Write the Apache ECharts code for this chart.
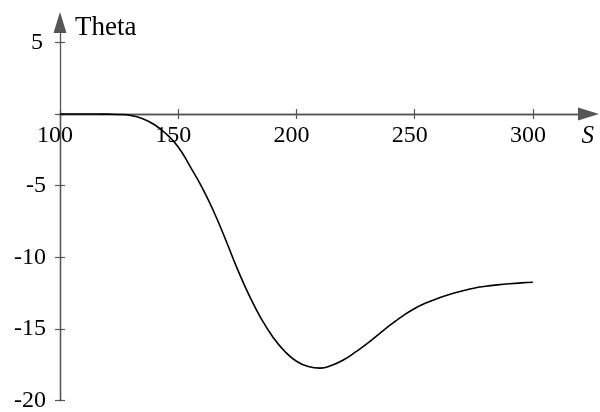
<!DOCTYPE html>
<html>
<head>
<meta charset="utf-8">
<script src="https://cdn.jsdelivr.net/npm/echarts@6/dist/echarts.min.js"></script>
<style>html,body{margin:0;padding:0;background:#fff}#c{width:600px;height:412px}</style>
</head>
<body>
<div id="c"></div>
<script>
var sValues = [100,105,110,115,120,125,130,135,140,145,150,155,160,165,170,175,180,185,190,195,200,205,210,215,220,225,230,235,240,245,250,255,260,265,270,275,280,285,290,295,300];
var thetaValues = [0,0,0,0,-0.01,-0.03,-0.1,-0.33,-0.75,-1.4,-2.3,-3.65,-5.1,-6.8,-8.75,-10.8,-12.65,-14.25,-15.55,-16.55,-17.25,-17.62,-17.73,-17.53,-17.14,-16.6,-16.0,-15.33,-14.68,-14.08,-13.57,-13.17,-12.85,-12.57,-12.35,-12.15,-12.02,-11.92,-11.84,-11.78,-11.74];
var xTicks = [100,150,200,250,300];
var yLowTickLabels = [-20,-15,-10,-5];
var yLowTicks = [-20,-15,-10,-5,0];
var yHighTicks = [5];

var FONT = 'Liberation Serif';
var axisColor = '#555';
var lineSt = {color:axisColor, width:1.3};
var tickSt = {color:axisColor, width:1.2};
var arrowSym = {symbol:['none','triangle'], symbolSize:[13,21]};

var data = sValues.map(function(s,i){return [s, thetaValues[i]];});

var chart = echarts.init(document.getElementById('c'), null, {renderer:'canvas'});
chart.setOption({
  animation:false,
  grid:[
    {left:60, right:11.5, top:114, bottom:11.3, outerBoundsMode:'none', containLabel:false},
    {left:60, right:11.5, top:22.5, bottom:298, outerBoundsMode:'none', containLabel:false}
  ],
  xAxis:[{
    gridIndex:0, type:'value', min:100, max:323.5, interval:50, position:'top',
    axisLine:Object.assign({show:true, onZero:false, lineStyle:lineSt}, arrowSym),
    axisTick:{show:true, length:5, customValues:xTicks, lineStyle:tickSt},
    axisLabel:{show:true, inside:true, customValues:xTicks, margin:10, color:'#000', fontFamily:FONT, fontSize:24, hideOverlap:false, padding:[0,10,0,0]},
    splitLine:{show:false},
    name:'S', nameLocation:'end', nameGap:-7,
    nameTextStyle:{fontFamily:FONT, fontStyle:'italic', fontSize:25, color:'#000', align:'left', verticalAlign:'top', padding:[10,0,0,0]}
  },{
    gridIndex:0, type:'value', min:100, max:323.5, interval:50, position:'top',
    axisLine:{show:true, onZero:false, lineStyle:lineSt},
    axisTick:{show:true, inside:true, length:5, customValues:xTicks, lineStyle:tickSt},
    axisLabel:{show:false}, splitLine:{show:false}
  },{
    gridIndex:1, type:'value', min:100, max:323.5, show:false
  }],
  yAxis:[{
    gridIndex:0, type:'value', min:-20, max:0, interval:5, position:'left',
    axisLine:{show:true, onZero:false, lineStyle:lineSt},
    axisTick:{show:true, length:5, customValues:yLowTicks, lineStyle:tickSt},
    axisLabel:{show:true, customValues:yLowTickLabels, margin:14, color:'#000', fontFamily:FONT, fontSize:24, padding:[8,0,0,0]},
    splitLine:{show:false}
  },{
    gridIndex:0, type:'value', min:-20, max:0, interval:5, position:'left',
    axisLine:{show:true, onZero:false, lineStyle:lineSt},
    axisTick:{show:true, inside:true, length:5, customValues:yLowTicks, lineStyle:tickSt},
    axisLabel:{show:false}, splitLine:{show:false}
  },{
    gridIndex:1, type:'value', min:0, max:6.38, position:'left',
    axisLine:Object.assign({show:true, onZero:false, lineStyle:lineSt}, arrowSym),
    axisTick:{show:true, length:5, customValues:yHighTicks, lineStyle:tickSt},
    axisLabel:{show:true, customValues:yHighTicks, margin:17, color:'#000', fontFamily:FONT, fontSize:24, padding:[8,0,0,0]},
    splitLine:{show:false},
    name:'Theta', nameLocation:'end', nameGap:-5,
    nameTextStyle:{fontFamily:FONT, fontSize:27, color:'#000', align:'left', verticalAlign:'middle', padding:[0,0,0,15]}
  },{
    gridIndex:1, type:'value', min:0, max:6.38, position:'left',
    axisLine:{show:false},
    axisTick:{show:true, inside:true, length:5, customValues:yHighTicks, lineStyle:tickSt},
    axisLabel:{show:false}, splitLine:{show:false}
  }],
  series:[{
    type:'line', xAxisIndex:0, yAxisIndex:0, data:data, smooth:true, showSymbol:false, clip:false,
    lineStyle:{color:'#000', width:1.6}
  }]
});
</script>
</body>
</html>
